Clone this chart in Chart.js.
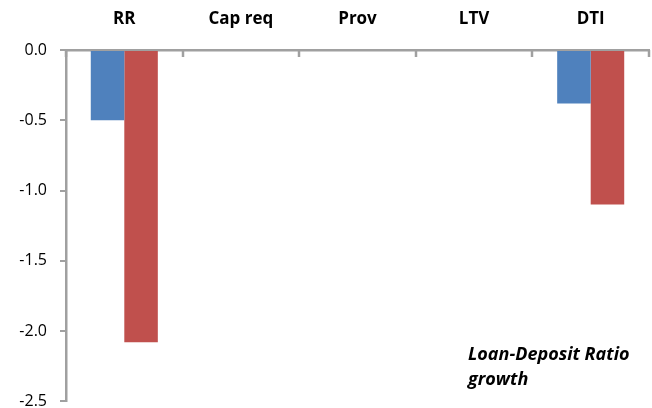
<!DOCTYPE html>
<html>
<head>
<meta charset="utf-8">
<script src="https://cdn.jsdelivr.net/npm/chart.js@4.4.1/dist/chart.umd.min.js"></script>
<style>
  html, body { margin: 0; padding: 0; background: #ffffff; overflow: hidden; }
  #wrap { width: 652px; height: 424px; position: relative; }
</style>
</head>
<body>
<div id="wrap"><canvas id="c"></canvas></div>
<script>
// Policy instruments and their estimated effect on loan-deposit ratio growth
const categories = ['RR', 'Cap req', 'Prov', 'LTV', 'DTI'];
const seriesA = [-0.50, null, null, null, -0.38];
const seriesB = [-2.08, null, null, null, -1.10];
const yTicks = [0, -0.5, -1.0, -1.5, -2.0, -2.5];
const noteLines = ['Loan-Deposit Ratio', 'growth'];

const axisGray = '#a0a0a0';

// Short marks hanging below the top axis between categories, plus the footnote text
const decorPlugin = {
  id: 'decor',
  afterDraw(chart) {
    const ctx = chart.ctx;
    const area = chart.chartArea;
    const xs = chart.scales.x;
    const n = categories.length;
    const step = (xs.getPixelForValue(1) - xs.getPixelForValue(0));
    ctx.save();
    ctx.strokeStyle = axisGray;
    ctx.lineWidth = 2.5;
    for (let i = 0; i <= n; i++) {
      const px = Math.round(xs.getPixelForValue(0) - step / 2 + i * step);
      ctx.beginPath();
      ctx.moveTo(px, area.top);
      ctx.lineTo(px, area.top + 7);
      ctx.stroke();
    }
    ctx.fillStyle = '#000000';
    ctx.font = 'italic bold 18px "Open Sans"';
    ctx.textAlign = 'left';
    ctx.textBaseline = 'alphabetic';
    const x = area.left + 402;
    ctx.fillText(noteLines[0], x, area.top + 310);
    ctx.fillText(noteLines[1], x, area.top + 335);
    ctx.restore();
  }
};

new Chart(document.getElementById('c'), {
  type: 'bar',
  data: {
    labels: categories,
    datasets: [
      { data: seriesA, backgroundColor: '#4f81bd', borderWidth: 0 },
      { data: seriesB, backgroundColor: '#c0504d', borderWidth: 0 }
    ]
  },
  options: {
    responsive: true,
    maintainAspectRatio: false,
    animation: false,
    layout: { padding: { left: 0, right: 3, top: 0, bottom: 0 } },
    plugins: { legend: { display: false }, tooltip: { enabled: false } },
    datasets: { bar: { categoryPercentage: 0.575, barPercentage: 1.0 } },
    scales: {
      x: {
        position: 'top',
        offset: true,
        grid: { display: false, drawOnChartArea: false, drawTicks: false },
        border: { display: true, color: axisGray, width: 2.5 },
        ticks: {
          color: '#000000',
          font: { family: 'Open Sans', size: 17, weight: 'bold' },
          padding: 21,
          maxRotation: 0
        },
        afterFit(scale) { scale.height = 50; }
      },
      y: {
        min: -2.5,
        max: 0,
        afterBuildTicks(scale) { scale.ticks = yTicks.map(v => ({ value: v })); },
        grid: {
          drawOnChartArea: false,
          drawTicks: true,
          tickLength: 6,
          color: axisGray,
          lineWidth: 2
        },
        border: { display: true, color: axisGray, width: 2.5 },
        ticks: {
          color: '#000000',
          font: { family: 'Open Sans', size: 16 },
          padding: 13,
          callback: v => Number(v).toFixed(1)
        },
        afterFit(scale) { scale.width = 66; }
      }
    }
  },
  plugins: [decorPlugin]
});
</script>
</body>
</html>
